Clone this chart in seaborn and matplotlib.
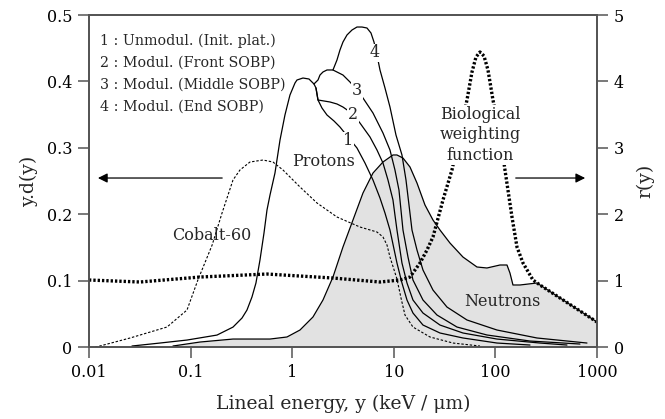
import matplotlib
matplotlib.use("Agg")
import matplotlib.pyplot as plt
import seaborn as sns
from matplotlib.ticker import NullLocator

# values (y in keV/um, y.d(y) and r(y))
# common rising edge of the proton spectra
proton_rise_x = [0.0265, 0.05, 0.0922, 0.182, 0.2615, 0.321, 0.359, 0.402, 0.440, 0.482, 0.528, 0.565,
                 0.605, 0.677, 0.759, 0.849, 0.951, 1.066, 1.115, 1.277, 1.464, 1.639]
proton_rise_y = [0.0015, 0.006, 0.0105, 0.018, 0.030, 0.0437, 0.0557, 0.0753, 0.0964, 0.131, 0.1717, 0.2063,
                 0.2289, 0.262, 0.3117, 0.3494, 0.3795, 0.3976, 0.4021, 0.4051, 0.4036, 0.3961]

# 1 : unmodulated
p1_x = [1.715, 1.795, 1.965, 2.201, 2.579, 2.954, 3.542, 4.344, 5.207, 6.243, 7.316, 8.193, 9.176,
        10.75, 12.04, 13.49, 15.45, 19.38, 28.50, 47.98, 103.7, 219.1]
p1_y = [0.3901, 0.372, 0.3599, 0.3494, 0.3404, 0.3313, 0.3163, 0.2997, 0.2771, 0.2515, 0.2244, 0.2018, 0.1762,
        0.1265, 0.0964, 0.0708, 0.0512, 0.0331, 0.0211, 0.0136, 0.006, 0.003]

# 2 : front SOBP
p2_x = [1.715, 1.795, 2.056, 2.355, 2.760, 3.162, 3.968, 4.649, 5.832, 6.834, 7.830, 8.769, 9.820, 10.27,
        10.75, 12.04, 13.49, 15.45, 19.38, 28.50, 47.98, 103.7, 274.8, 506.7]
p2_y = [0.3901, 0.372, 0.3705, 0.369, 0.366, 0.3614, 0.3509, 0.3373, 0.3163, 0.2967, 0.2771, 0.2515, 0.2214, 0.1988,
        0.1762, 0.1265, 0.0964, 0.0708, 0.0512, 0.0331, 0.0211, 0.012, 0.006, 0.003]

# 3 : middle SOBP
p3_x = [1.795, 1.878, 2.010, 2.201, 2.521, 3.162, 3.707, 4.344, 4.976, 6.243, 7.830, 9.176, 10.27, 11.25,
        11.51, 12.32, 13.80, 15.45, 19.38, 26.62, 41.88, 82.65, 219.1, 680.3]
p3_y = [0.4021, 0.4096, 0.4142, 0.4172, 0.4172, 0.4096, 0.3991, 0.387, 0.375, 0.3524, 0.3223, 0.2967, 0.2666, 0.2364,
        0.2214, 0.1762, 0.1355, 0.1009, 0.0708, 0.0482, 0.0301, 0.0181, 0.009, 0.0045]

# 4 : end SOBP
p4_x = [2.521, 2.760, 2.954, 3.162, 3.463, 3.879, 4.344, 4.864, 5.449, 5.966, 6.386, 6.834, 7.316, 8.193,
        9.176, 10.51, 12.04, 13.19, 14.12, 15.11, 16.92, 19.38, 24.31, 33.39, 52.55, 103.7, 256.7, 797.0]
p4_y = [0.4172, 0.4322, 0.4473, 0.4593, 0.4699, 0.4774, 0.4819, 0.4819, 0.4804, 0.4729, 0.4593, 0.4398, 0.4172, 0.3901,
        0.3614, 0.3193, 0.2892, 0.2515, 0.2139, 0.1762, 0.1461, 0.116, 0.0858, 0.0602, 0.0407, 0.0256, 0.0136, 0.006]

cobalt_x = [0.0115, 0.0128, 0.0254, 0.0586, 0.0922, 0.118, 0.163, 0.204, 0.2615, 0.3063, 0.3842, 0.516, 0.6471,
            0.8116, 1.194, 1.755, 2.760, 4.649, 6.834, 7.830, 8.575, 9.176, 10.75, 11.78, 12.89, 15.45, 22.72,
            38.25, 70.54]
cobalt_y = [0.0, 0.0015, 0.0136, 0.0301, 0.0557, 0.1009, 0.1536, 0.2018, 0.2515, 0.2666, 0.2786, 0.2816, 0.2786,
            0.2666, 0.241, 0.2169, 0.1958, 0.1807, 0.1732, 0.1657, 0.1536, 0.1355, 0.1024, 0.0738, 0.0482, 0.0301,
            0.0151, 0.006, 0.0015]

neutron_x = [0.0671, 0.1238, 0.2615, 0.6046, 0.889, 1.194, 1.602, 2.010, 2.521, 3.162, 3.968, 4.976, 6.243,
             7.830, 9.820, 10.75, 12.32, 14.44, 16.92, 20.28, 24.31, 28.50, 35.74, 47.98, 65.91, 82.65, 111.0,
             130.1, 139.2, 149.0, 174.6, 256.7, 1000]
neutron_y = [0.0015, 0.0075, 0.012, 0.012, 0.0151, 0.0256, 0.0452, 0.0708, 0.1054, 0.1506, 0.1913, 0.2319, 0.262,
             0.2786, 0.2892, 0.2892, 0.2846, 0.2711, 0.247, 0.2139, 0.1913, 0.1762, 0.1566, 0.1355, 0.1205, 0.119,
             0.1235, 0.1235, 0.1114, 0.0934, 0.0934, 0.0964, 0.0377]

bio_x = [0.01, 0.0318, 0.1238, 0.5649, 2.521, 7.316, 11.51, 14.44, 18.11, 21.23, 24.31, 30.50, 37.39, 44.83,
         52.55, 58.86, 64.45, 70.54, 77.23, 84.56, 94.71, 111.0, 124.3, 145.7, 163.2, 187.0, 234.5, 274.8, 1000]
bio_r = [1.009, 0.979, 1.054, 1.099, 1.039, 0.979, 1.009, 1.054, 1.265, 1.461, 1.657, 2.214, 2.666, 3.223,
         3.72, 4.142, 4.367, 4.443, 4.383, 4.172, 3.72, 3.193, 2.666, 1.958, 1.506, 1.265, 1.009, 0.934, 0.377]

x_ticks = [0.01, 0.1, 1, 10, 100, 1000]
x_tick_labels = ["0.01", "0.1", "1", "10", "100", "1000"]
left_ticks = [0, 0.1, 0.2, 0.3, 0.4, 0.5]
left_tick_labels = ["0", "0.1", "0.2", "0.3", "0.4", "0.5"]
right_ticks = [0, 1, 2, 3, 4, 5]

legend_lines = ["1 : Unmodul. (Init. plat.)", "2 : Modul. (Front SOBP)",
                "3 : Modul. (Middle SOBP)", "4 : Modul. (End SOBP)"]

sns.set_style("ticks")
plt.rcParams['font.family'] = ['DejaVu Serif']

spine_col = '#555555'
fig = plt.figure(figsize=(6.65, 4.19), dpi=100)
ax = fig.add_axes([0.1338, 0.1718, 0.7639, 0.7924])
ax.set_xscale('log')

line_kw = dict(color='black', lw=0.9, sort=False, estimator=None, zorder=3, solid_joinstyle='round')

# neutrons: shaded area + outline
ax.fill_between(neutron_x, neutron_y, 0, color='#e2e2e2', lw=0, zorder=1)
sns.lineplot(x=neutron_x, y=neutron_y, ax=ax, **line_kw)

# protons, the 4 curves share the rising edge
sns.lineplot(x=proton_rise_x + p1_x, y=proton_rise_y + p1_y, ax=ax, **line_kw)
sns.lineplot(x=p2_x, y=p2_y, ax=ax, **line_kw)
sns.lineplot(x=proton_rise_x[-1:] + p3_x, y=proton_rise_y[-1:] + p3_y, ax=ax, **line_kw)
sns.lineplot(x=p4_x, y=p4_y, ax=ax, **line_kw)

# cobalt-60
sns.lineplot(x=cobalt_x, y=cobalt_y, ax=ax, color='black', lw=0.8, sort=False, estimator=None,
             linestyle=(0, (2.2, 1.6)), zorder=3)

ax.set_xlim(0.01, 1000)
ax.set_ylim(0, 0.5)
ax.set_xticks(x_ticks)
ax.set_xticklabels(x_tick_labels)
ax.xaxis.set_minor_locator(NullLocator())
ax.set_yticks(left_ticks)
ax.set_yticklabels(left_tick_labels)
ax.set_xlabel("Lineal energy, y (keV / μm)", fontsize=13.5, labelpad=10)
ax.set_ylabel("y.d(y)", fontsize=13.5, labelpad=6)

# twin axis for the weighting function
ax2 = ax.twinx()
sns.lineplot(x=bio_x, y=bio_r, ax=ax2, color='black', lw=2.4, sort=False, estimator=None,
             linestyle=(0, (0.7, 0.6)))
ax2.set_ylim(0, 5)
ax2.set_yticks(right_ticks)
ax2.set_ylabel("r(y)", fontsize=13.5, labelpad=9)
ax2.set_xlim(0.01, 1000)
ax2.xaxis.set_minor_locator(NullLocator())

for a in (ax, ax2):
    for s in a.spines.values():
        s.set_visible(True)
        s.set_color(spine_col)
        s.set_linewidth(1.3)
    a.tick_params(axis='both', which='major', length=8, width=1.1, color=spine_col,
                  labelsize=11.5, labelcolor='black', pad=4)

# texts
for i, t in enumerate(legend_lines):
    ax.text(0.022, 0.922 - i * 0.066, t, transform=ax.transAxes, fontsize=10.3, va='center', ha='left')

ax.text(0.461, 0.560, "Protons", transform=ax.transAxes, fontsize=11.5, ha='center', va='center', zorder=5)
ax.text(0.242, 0.337, "Cobalt-60", transform=ax.transAxes, fontsize=11.5, ha='center', va='center', zorder=5)
ax.text(0.813, 0.136, "Neutrons", transform=ax.transAxes, fontsize=11.5, ha='center', va='center', zorder=5)

for lbl, (tx, ty) in zip(["1", "2", "3", "4"], [(0.510, 0.621), (0.520, 0.700), (0.527, 0.774), (0.563, 0.886)]):
    ax.text(tx, ty, lbl, transform=ax.transAxes, fontsize=11.5, ha='center', va='center', zorder=6,
            bbox=dict(facecolor='white', edgecolor='none', pad=0.6))

ax2.text(0.770, 0.639, "Biological\nweighting\nfunction", transform=ax2.transAxes, fontsize=11.5,
         ha='center', va='center', linespacing=1.25, zorder=6,
         bbox=dict(facecolor='white', edgecolor='none', pad=1))

# arrows pointing to the axis each curve belongs to
ax.annotate("", xy=(0.0115, 0.2545), xytext=(0.218, 0.2545),
            arrowprops=dict(arrowstyle='-|>', color='black', lw=0.9, mutation_scale=14))
ax.annotate("", xy=(815, 0.2545), xytext=(149, 0.2545),
            arrowprops=dict(arrowstyle='-|>', color='black', lw=0.9, mutation_scale=14))

fig.savefig("out.png", dpi=100)
